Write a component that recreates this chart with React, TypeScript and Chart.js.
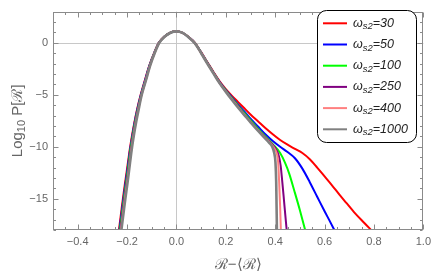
import React, { useEffect, useRef } from "react";
import { Chart, registerables } from "chart.js";

Chart.register(...registerables);

const X_MIN = -0.5;
const X_MAX = 1.0;
const Y_MIN = -18;
const Y_MAX = 3;
const X_TICKS = [-0.4, -0.2, 0, 0.2, 0.4, 0.6, 0.8, 1.0];
const Y_TICKS = [0, -5, -10, -15];
const X_TITLE = "ℛ−⟨ℛ⟩";
const SERIES_LABELS = ["30", "50", "100", "250", "400", "1000"];
const SERIES_COLORS = ["#ff0000", "#0000ff", "#00ff00", "#800080", "#ff8080", "#808080"];

type Pt = [number, number];

const W30: Pt[] = [
  [-0.233, -18], [-0.225, -16.5], [-0.217, -15.0], [-0.209, -13.6], [-0.2, -12.1], [-0.19, -10.4],
  [-0.18, -8.9], [-0.17, -7.6], [-0.16, -6.45], [-0.145, -5.0], [-0.128, -3.6], [-0.11, -2.2],
  [-0.09, -0.95], [-0.072, 0], [-0.05, 0.58], [-0.025, 0.97], [0, 1.1],
  [0.025, 0.95], [0.05, 0.55], [0.075, 0], [0.1, -0.9], [0.125, -1.85], [0.15, -2.8], [0.175, -3.7],
  [0.2, -4.45], [0.225, -5.1], [0.25, -5.7], [0.275, -6.3], [0.3, -6.9], [0.33, -7.55], [0.36, -8.2],
  [0.39, -8.8], [0.42, -9.35], [0.45, -9.8], [0.48, -10.2], [0.51, -10.6], [0.54, -11.2], [0.57, -12.0],
  [0.6, -12.85], [0.63, -13.7], [0.66, -14.6], [0.69, -15.45], [0.72, -16.3], [0.76, -17.3], [0.795, -18.15],
];

const W50: Pt[] = [
  [-0.231, -18], [-0.223, -16.5], [-0.215, -15.0], [-0.207, -13.6], [-0.198, -12.1], [-0.1885, -10.4],
  [-0.1785, -8.9], [-0.169, -7.6], [-0.159, -6.45], [-0.144, -5.0], [-0.127, -3.6], [-0.1095, -2.2],
  [-0.0895, -0.95], [-0.0715, 0], [-0.0497, 0.58], [-0.0248, 0.97], [0, 1.1],
  [0.025, 0.95], [0.05, 0.54], [0.075, -0.02], [0.1, -0.93], [0.125, -1.9], [0.15, -2.85], [0.175, -3.78],
  [0.2, -4.55], [0.225, -5.25], [0.25, -5.95], [0.275, -6.6], [0.3, -7.3], [0.33, -8.05], [0.36, -8.8],
  [0.39, -9.45], [0.42, -10.0], [0.45, -10.5], [0.48, -11.1], [0.51, -12.1], [0.54, -13.4], [0.57, -14.8],
  [0.6, -16.2], [0.62, -17.1], [0.643, -18.15],
];

const W100: Pt[] = [
  [-0.229, -18], [-0.221, -16.5], [-0.213, -15.0], [-0.205, -13.6], [-0.196, -12.1], [-0.187, -10.4],
  [-0.177, -8.9], [-0.1675, -7.6], [-0.1575, -6.45], [-0.1426, -5.0], [-0.1255, -3.6], [-0.1085, -2.2],
  [-0.089, -0.95], [-0.071, 0], [-0.0494, 0.58], [-0.0246, 0.97], [0, 1.1],
  [0.025, 0.95], [0.05, 0.54], [0.075, -0.03], [0.1, -0.95], [0.125, -1.92], [0.15, -2.88], [0.175, -3.82],
  [0.2, -4.6], [0.225, -5.33], [0.25, -6.05], [0.275, -6.75], [0.3, -7.45], [0.33, -8.25], [0.36, -9.0],
  [0.39, -9.75], [0.42, -10.6], [0.44, -11.55], [0.457, -12.6], [0.477, -14.2], [0.5, -16.1], [0.523, -18.15],
];

const W250: Pt[] = [
  [-0.227, -18], [-0.219, -16.5], [-0.211, -15.0], [-0.203, -13.6], [-0.194, -12.1], [-0.185, -10.4],
  [-0.1755, -8.9], [-0.166, -7.6], [-0.1565, -6.45], [-0.1418, -5.0], [-0.1248, -3.6], [-0.108, -2.2],
  [-0.0885, -0.95], [-0.0705, 0], [-0.049, 0.58], [-0.0244, 0.97], [0, 1.1],
  [0.025, 0.95], [0.05, 0.53], [0.075, -0.04], [0.1, -0.97], [0.125, -1.94], [0.15, -2.9], [0.175, -3.85],
  [0.2, -4.65], [0.225, -5.4], [0.25, -6.12], [0.275, -6.85], [0.3, -7.55], [0.33, -8.35], [0.36, -9.1],
  [0.385, -9.7], [0.405, -10.3], [0.415, -10.9], [0.422, -11.8], [0.428, -13.2], [0.435, -15.0],
  [0.441, -16.6], [0.447, -18.15],
];

const W400: Pt[] = [
  [-0.225, -18], [-0.217, -16.5], [-0.209, -15.0], [-0.201, -13.6], [-0.1925, -12.1], [-0.1835, -10.4],
  [-0.174, -8.9], [-0.1645, -7.6], [-0.155, -6.45], [-0.141, -5.0], [-0.124, -3.6], [-0.107, -2.2],
  [-0.088, -0.95], [-0.07, 0], [-0.0487, 0.58], [-0.0242, 0.97], [0, 1.1],
  [0.025, 0.95], [0.05, 0.53], [0.075, -0.05], [0.1, -0.98], [0.125, -1.96], [0.15, -2.92], [0.175, -3.87],
  [0.2, -4.68], [0.225, -5.45], [0.25, -6.18], [0.275, -6.9], [0.3, -7.6], [0.33, -8.4], [0.36, -9.15],
  [0.382, -9.7], [0.398, -10.2], [0.407, -10.7], [0.412, -11.5], [0.416, -13.4], [0.42, -15.8], [0.423, -18.15],
];

const W1000: Pt[] = [
  [-0.223, -18], [-0.215, -16.5], [-0.207, -15.0], [-0.199, -13.6], [-0.191, -12.1], [-0.182, -10.4],
  [-0.1725, -8.9], [-0.163, -7.6], [-0.1535, -6.45], [-0.1405, -5.0], [-0.1235, -3.6], [-0.1065, -2.2],
  [-0.0875, -0.95], [-0.0695, 0], [-0.0485, 0.58], [-0.024, 0.97], [0, 1.1],
  [0.025, 0.95], [0.05, 0.52], [0.075, -0.06], [0.1, -1.0], [0.125, -2.0], [0.15, -2.96], [0.175, -3.9],
  [0.2, -4.72], [0.225, -5.5], [0.25, -6.25], [0.275, -6.95], [0.3, -7.65], [0.33, -8.45], [0.355, -9.1],
  [0.375, -9.6], [0.388, -10.0], [0.396, -10.6], [0.401, -11.5], [0.404, -13.4], [0.407, -18.15],
];

const SERIES: Pt[][] = [W30, W50, W100, W250, W400, W1000];

const FONT = "'Liberation Sans', Arial, sans-serif";
const AXIS_GRAY = "#8a8a8a";
const LABEL_GRAY = "#666666";

function fmt(v: number, digits: number): string {
  const s = Math.abs(v).toFixed(digits);
  return v < -1e-9 ? "\u2212" + s : s;
}

const decorPlugin = {
  id: "decor",
  beforeDatasetsDraw(chart: any) {
    const { ctx, chartArea: a, scales } = chart;
    const x0 = Math.round(scales.x.getPixelForValue(0)) + 0.5;
    const y0 = Math.round(scales.y.getPixelForValue(0)) + 0.5;
    ctx.save();
    ctx.strokeStyle = "#c8c8c8";
    ctx.lineWidth = 1;
    ctx.beginPath();
    ctx.moveTo(x0, a.top);
    ctx.lineTo(x0, a.bottom);
    ctx.moveTo(a.left, y0);
    ctx.lineTo(a.right, y0);
    ctx.stroke();
    ctx.restore();
  },
  afterDatasetsDraw(chart: any) {
    const { ctx, chartArea: a, scales } = chart;
    const sx = scales.x;
    const sy = scales.y;
    ctx.save();
    ctx.strokeStyle = AXIS_GRAY;
    ctx.lineWidth = 1;
    const L = Math.round(a.left) + 0.5;
    const R = Math.round(a.right) - 0.5;
    const T = Math.round(a.top) + 0.5;
    const B = Math.round(a.bottom) - 0.5;
    ctx.strokeRect(L, T, R - L, B - T);
    ctx.beginPath();
    for (let i = 0; i <= 30; i++) {
      const v = X_MIN + i * 0.05;
      const major = X_TICKS.some((t) => Math.abs(t - v) < 1e-6);
      const len = major ? 5 : 2.5;
      const px = Math.round(sx.getPixelForValue(v)) + 0.5;
      ctx.moveTo(px, B);
      ctx.lineTo(px, B - len);
      ctx.moveTo(px, T);
      ctx.lineTo(px, T + len);
    }
    for (let v = Y_MIN; v <= Y_MAX; v++) {
      const major = Y_TICKS.includes(v);
      const len = major ? 5 : 2.5;
      const py = Math.round(sy.getPixelForValue(v)) + 0.5;
      ctx.moveTo(L, py);
      ctx.lineTo(L + len, py);
      ctx.moveTo(R, py);
      ctx.lineTo(R - len, py);
    }
    ctx.stroke();

    ctx.fillStyle = LABEL_GRAY;
    ctx.font = `15px ${FONT}`;
    ctx.textAlign = "center";
    ctx.textBaseline = "middle";
    ctx.fillText(X_TITLE, (a.left + a.right) / 2, 265);

    ctx.save();
    ctx.translate(18, (a.top + a.bottom) / 2);
    ctx.rotate(-Math.PI / 2);
    const big = `15px ${FONT}`;
    const small = `11px ${FONT}`;
    const parts: [string, string, number][] = [
      ["Log", big, 0],
      ["10", small, 3.5],
      [" P[ℛ]", big, 0],
    ];
    let total = 0;
    for (const [t, f] of parts) {
      ctx.font = f;
      total += ctx.measureText(t).width;
    }
    let cx = -total / 2;
    ctx.textAlign = "left";
    ctx.textBaseline = "middle";
    for (const [t, f, dy] of parts) {
      ctx.font = f;
      ctx.fillText(t, cx, dy);
      cx += ctx.measureText(t).width;
    }
    ctx.restore();

    const bx = 317.5, by = 10.5, bw = 99, bh = 132, r = 9;
    ctx.beginPath();
    ctx.moveTo(bx + r, by);
    ctx.lineTo(bx + bw - r, by);
    ctx.arcTo(bx + bw, by, bx + bw, by + r, r);
    ctx.lineTo(bx + bw, by + bh - r);
    ctx.arcTo(bx + bw, by + bh, bx + bw - r, by + bh, r);
    ctx.lineTo(bx + r, by + bh);
    ctx.arcTo(bx, by + bh, bx, by + bh - r, r);
    ctx.lineTo(bx, by + r);
    ctx.arcTo(bx, by, bx + r, by, r);
    ctx.closePath();
    ctx.fillStyle = "#ffffff";
    ctx.fill();
    ctx.strokeStyle = "#000000";
    ctx.lineWidth = 1;
    ctx.stroke();

    SERIES_LABELS.forEach((lab, i) => {
      const yy = 23.3 + i * 21.2;
      ctx.strokeStyle = SERIES_COLORS[i];
      ctx.lineWidth = 2;
      ctx.beginPath();
      ctx.moveTo(323, yy);
      ctx.lineTo(347, yy);
      ctx.stroke();
      ctx.fillStyle = "#222222";
      ctx.textAlign = "left";
      ctx.textBaseline = "middle";
      let tx = 353;
      ctx.font = `italic 12.5px ${FONT}`;
      ctx.fillText("ω", tx, yy);
      tx += ctx.measureText("ω").width;
      ctx.font = `italic 9.5px ${FONT}`;
      ctx.fillText("s2", tx, yy + 3.5);
      tx += ctx.measureText("s2").width;
      ctx.font = `italic 12.5px ${FONT}`;
      ctx.fillText("=" + lab, tx, yy);
    });
    ctx.restore();
  },
};

export default function App() {
  const ref = useRef<HTMLCanvasElement | null>(null);
  useEffect(() => {
    if (!ref.current) return;
    const datasets = SERIES.map((pts, i) => ({
      label: "ωs2=" + SERIES_LABELS[i],
      data: pts.map(([x, y]) => ({ x, y })),
      borderColor: SERIES_COLORS[i],
      backgroundColor: SERIES_COLORS[i],
      borderWidth: i === 5 ? 2.6 : 2,
      pointRadius: 0,
      fill: false,
      cubicInterpolationMode: "monotone" as const,
      order: SERIES.length - 1 - i,
      clip: 0,
    }));
    const chart = new Chart(ref.current, {
      type: "line",
      data: { datasets },
      options: {
        animation: false,
        responsive: false,
        devicePixelRatio: 1,
        layout: { padding: { top: 1, right: 9, left: 0, bottom: 0 } },
        plugins: { legend: { display: false }, tooltip: { enabled: false } },
        scales: {
          x: {
            type: "linear",
            min: X_MIN,
            max: X_MAX,
            grid: { display: false, drawTicks: false },
            border: { display: false },
            afterBuildTicks: (s: any) => {
              s.ticks = X_TICKS.map((v) => ({ value: v }));
            },
            afterFit: (s: any) => {
              s.height = 46;
            },
            ticks: {
              padding: 5,
              maxRotation: 0,
              autoSkip: false,
              color: LABEL_GRAY,
              font: { family: FONT, size: 11 },
              callback: (v: any) => fmt(Number(v), 1),
            },
          },
          y: {
            type: "linear",
            min: Y_MIN,
            max: Y_MAX,
            grid: { display: false, drawTicks: false },
            border: { display: false },
            afterBuildTicks: (s: any) => {
              s.ticks = Y_TICKS.map((v) => ({ value: v }));
            },
            afterFit: (s: any) => {
              s.width = 53;
            },
            ticks: {
              padding: 5,
              autoSkip: false,
              color: LABEL_GRAY,
              font: { family: FONT, size: 11 },
              callback: (v: any) => fmt(Number(v), 0),
            },
          },
        },
      },
      plugins: [decorPlugin],
    });
    return () => chart.destroy();
  }, []);
  return (
    <div style={{ position: "absolute", left: 0, top: 0, width: 436, height: 276 }}>
      <canvas ref={ref} width={436} height={276} />
    </div>
  );
}
